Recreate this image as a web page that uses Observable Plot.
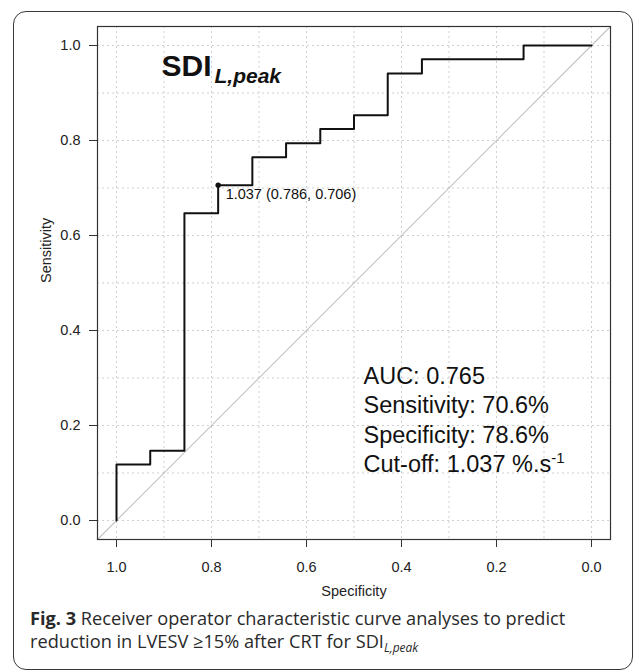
<!DOCTYPE html>
<html>
<head>
<meta charset="utf-8">
<script src="https://cdn.jsdelivr.net/npm/d3@7"></script>
<script src="https://cdn.jsdelivr.net/npm/@observablehq/plot@0.6"></script>
<style>
  html, body { margin: 0; padding: 0; background: #fff; }
  #page { position: relative; width: 634px; height: 672px; overflow: hidden; background: #fff; }
  #chart { position: absolute; left: 0; top: 0; }
  #border { position: absolute; left: 13px; top: 11px; width: 620px; height: 659px; box-sizing: border-box;
            border: 1.5px solid #3a3a3a; border-radius: 13px; pointer-events: none; }
  #caption { position: absolute; left: 30px; top: 607px; width: 595px; font-family: "Open Sans", "Noto Sans", sans-serif;
             font-size: 18.2px; line-height: 23px; color: #2a2a2a; white-space: nowrap; }
  #caption b { font-weight: 700; }
  #caption .sub { font-size: 12px; font-style: italic; position: relative; top: 4px; line-height: 0; }
</style>
</head>
<body>
<div id="page">
  <div id="chart"></div>
  <div id="caption"></div>
  <div id="border"></div>
</div>
<script>
// ---- data ----
const specificity = [1, 1, 0.929, 0.929, 0.857, 0.857, 0.786, 0.786, 0.714, 0.714, 0.643, 0.643,
                     0.571, 0.571, 0.5, 0.5, 0.429, 0.429, 0.357, 0.357, 0.143, 0.143, 0];
const sensitivity = [0, 0.118, 0.118, 0.147, 0.147, 0.647, 0.647, 0.706, 0.706, 0.765, 0.765, 0.794,
                     0.794, 0.824, 0.824, 0.853, 0.853, 0.941, 0.941, 0.971, 0.971, 1, 1];
const cutoffThreshold = 1.037;
const cutoffSpecificity = 0.786;
const cutoffSensitivity = 0.706;
const statLabels = ["AUC: 0.765", "Sensitivity: 70.6%", "Specificity: 78.6%", "Cut-off: 1.037 %.s"];
const statSuperscript = "-1";
const xTicks = [1.0, 0.8, 0.6, 0.4, 0.2, 0.0];
const yTicks = [0.0, 0.2, 0.4, 0.6, 0.8, 1.0];
const gridTicks = [0, 0.1, 0.2, 0.3, 0.4, 0.5, 0.6, 0.7, 0.8, 0.9, 1.0];
const xDomain = [1.04, -0.04];
const yDomain = [-0.04, 1.04];
const titleMain = "SDI";
const titleSub = "L,peak";
const xLabel = "Specificity";
const yLabel = "Sensitivity";
const captionLead = "Fig. 3";
const captionLine1 = " Receiver operator characteristic curve analyses to predict";
const captionLine2 = "reduction in LVESV \u226515% after CRT for SDI";
const captionSub = "L,peak";

// ---- derived tables ----
const roc = specificity.map((s, i) => ({specificity: s, sensitivity: sensitivity[i]}));
const cutoff = [{threshold: cutoffThreshold, specificity: cutoffSpecificity, sensitivity: cutoffSensitivity}];
const diagonal = xDomain.map((s) => ({specificity: s, sensitivity: 1 - s}));
const fmt1 = d3.format(".1f");
const fmt3 = d3.format(".3f");

const chart = Plot.plot({
  width: 634,
  height: 610,
  marginTop: 26,
  marginRight: 24,
  marginBottom: 71,
  marginLeft: 97,
  style: {fontFamily: "'Liberation Sans', Arial, Helvetica, sans-serif", fontSize: "14.5px", color: "#222", background: "transparent", overflow: "visible"},
  x: {domain: xDomain},
  y: {domain: yDomain},
  marks: [
    Plot.gridX(gridTicks, {stroke: "#cfcfcf", strokeOpacity: 1, strokeDasharray: "2,3"}),
    Plot.gridY(gridTicks, {stroke: "#cfcfcf", strokeOpacity: 1, strokeDasharray: "2,3"}),
    Plot.line(diagonal, {x: "specificity", y: "sensitivity", stroke: "#c2c2c2", strokeWidth: 1.1}),
    Plot.line(roc, {x: "specificity", y: "sensitivity", stroke: "#111", strokeWidth: 2}),
    Plot.dot(cutoff, {x: "specificity", y: "sensitivity", r: 2.7, fill: "#111", stroke: "none"}),
    Plot.text(cutoff, {x: "specificity", y: "sensitivity",
      text: (d) => `${fmt3(d.threshold)} (${fmt3(d.specificity)}, ${fmt3(d.sensitivity)})`,
      textAnchor: "start", lineAnchor: "top", dx: 7.5, dy: 3.5, fontSize: 14.5, fill: "#111"}),
    Plot.text([statLabels.join("\n")], {frameAnchor: "top-left", textAnchor: "start", lineAnchor: "top",
      dx: 266, dy: 336.5, fontSize: 23.5, lineHeight: 1.25, fill: "#111"}),
    Plot.text([titleMain], {frameAnchor: "top-left", textAnchor: "start", lineAnchor: "top",
      dx: 64, dy: 27.7, fontSize: 30, fontWeight: "bold", fill: "#111"}),
    Plot.frame({stroke: "#333", strokeWidth: 1.2}),
    Plot.axisX(xTicks, {anchor: "bottom", tickSize: 8, tickPadding: 14.5, tickFormat: fmt1, label: null, stroke: "#333", fill: "#222", fontSize: 14.5}),
    Plot.axisY(yTicks, {anchor: "left", tickSize: 8, tickPadding: 9, tickFormat: fmt1, label: null, stroke: "#333", fill: "#222", fontSize: 14.5}),
    Plot.text([xLabel], {frameAnchor: "bottom", lineAnchor: "middle", dy: 51.4, fontSize: 14.5, fill: "#222"}),
    Plot.text([yLabel], {frameAnchor: "left", lineAnchor: "middle", rotate: -90, dx: -51, fontSize: 14.5, fill: "#222"})
  ]
});

// rich-text pieces: subscript in title, superscript in cut-off unit
const NS = "http://www.w3.org/2000/svg";
chart.querySelectorAll("text").forEach((t) => {
  if (t.textContent === titleMain) {
    const sub = document.createElementNS(NS, "tspan");
    sub.setAttribute("dx", "3");
    sub.setAttribute("dy", "7.7");
    sub.setAttribute("font-size", "21");
    sub.setAttribute("font-style", "italic");
    sub.textContent = titleSub;
    t.appendChild(sub);
  }
});
function addSup(el) {
  const sup = document.createElementNS(NS, "tspan");
  sup.setAttribute("dy", "-9");
  sup.setAttribute("font-size", "15");
  sup.textContent = statSuperscript;
  el.appendChild(sup);
}
let supDone = false;
chart.querySelectorAll("tspan").forEach((ts) => {
  if (!supDone && ts.textContent === statLabels[statLabels.length - 1]) { addSup(ts); supDone = true; }
});
if (!supDone) {
  chart.querySelectorAll("text").forEach((t) => {
    if (!supDone && t.textContent === statLabels[statLabels.length - 1]) { addSup(t); supDone = true; }
  });
}

document.getElementById("chart").appendChild(chart);

// caption
const cap = document.getElementById("caption");
const b = document.createElement("b");
b.textContent = captionLead;
cap.appendChild(b);
cap.appendChild(document.createTextNode(captionLine1));
cap.appendChild(document.createElement("br"));
cap.appendChild(document.createTextNode(captionLine2));
const s = document.createElement("span");
s.className = "sub";
s.textContent = captionSub;
cap.appendChild(s);
</script>
</body>
</html>
